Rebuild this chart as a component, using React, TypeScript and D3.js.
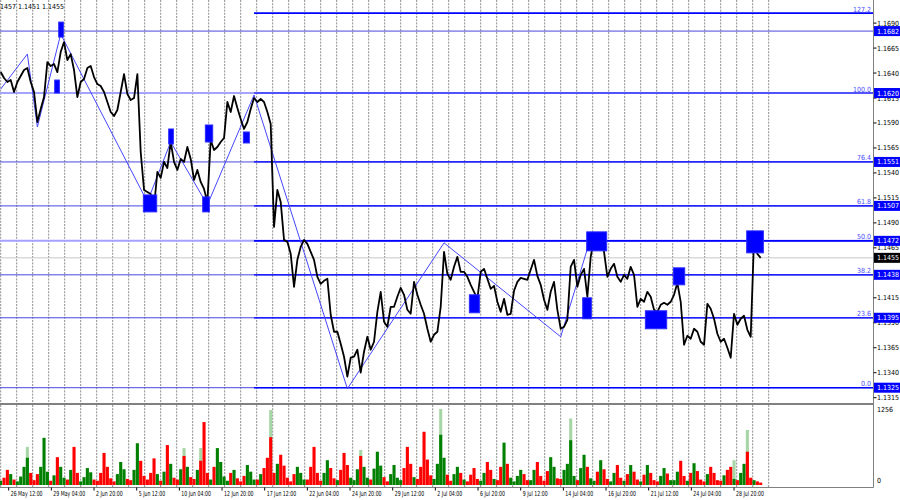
import React from "react";
import * as d3 from "d3";

// closing price sampled every 5 H1 bars, first sample = 26 May 00:00
const closes: number[] = [
  1.1641, 1.1635, 1.1631, 1.1633, 1.1621, 1.1631, 1.1637, 1.1643, 1.1645, 1.1631,
  1.1621, 1.1591, 1.1604, 1.1616, 1.1651, 1.1647, 1.1649, 1.1641, 1.1661, 1.1671,
  1.1653, 1.1659, 1.1643, 1.1616, 1.1631, 1.1634, 1.1645, 1.1647, 1.1636, 1.1629,
  1.1627, 1.1621, 1.1611, 1.1601, 1.1597, 1.1603, 1.1621, 1.1639, 1.1619, 1.1613,
  1.1615, 1.1639, 1.1561, 1.1523, 1.1521, 1.1519, 1.1506, 1.1541, 1.1535, 1.1551,
  1.1545, 1.1571, 1.1551, 1.1543, 1.1554, 1.1551, 1.1566, 1.1554, 1.1533, 1.1543,
  1.1531, 1.1524, 1.1511, 1.1573, 1.1563, 1.1566, 1.1571, 1.1575, 1.1611, 1.1601,
  1.1617, 1.1605, 1.1594, 1.1584, 1.1591, 1.1604, 1.1615, 1.1611, 1.1614, 1.1611,
  1.1601, 1.1589, 1.1486, 1.1523, 1.1511, 1.1473, 1.1471, 1.1459, 1.1426, 1.1453,
  1.1466, 1.1473, 1.1469, 1.1461, 1.1453, 1.1436, 1.1429, 1.1432, 1.1434, 1.1398,
  1.1381, 1.1381, 1.1369, 1.1356, 1.1336, 1.1355, 1.1356, 1.1363, 1.1340, 1.1361,
  1.1376, 1.1363, 1.1371, 1.1401, 1.1421, 1.1391, 1.1386, 1.1406, 1.1406, 1.1416,
  1.1425, 1.1418, 1.1403, 1.1399, 1.1431, 1.1418, 1.1408, 1.1399, 1.1384, 1.1371,
  1.1378, 1.1381, 1.1406, 1.1461, 1.1439, 1.1433, 1.1446, 1.1456, 1.1441, 1.1441,
  1.1436, 1.1428, 1.1421, 1.1414, 1.1441, 1.1444, 1.1434, 1.1424, 1.1427, 1.1411,
  1.1401, 1.1414, 1.1398, 1.1399, 1.1422, 1.1431, 1.1435, 1.1434, 1.1433, 1.1443,
  1.1453, 1.1437, 1.1428, 1.1413, 1.1403, 1.1421, 1.1431, 1.1403, 1.1384, 1.1386,
  1.1393, 1.1446, 1.1453, 1.1426, 1.1438, 1.1444, 1.1416, 1.1456, 1.1474, 1.1468,
  1.1474, 1.1461, 1.1436, 1.1444, 1.1449, 1.1436, 1.1431, 1.1438, 1.1434, 1.1446,
  1.1438, 1.1406, 1.1414, 1.1411, 1.1421, 1.1416, 1.1403, 1.1401, 1.1408, 1.1410,
  1.1408, 1.1411, 1.1418, 1.1430, 1.1411, 1.1368, 1.1377, 1.1374, 1.1384, 1.1381,
  1.1371, 1.1368, 1.1409, 1.1404, 1.1394, 1.1379, 1.1371, 1.1374, 1.1365, 1.1355,
  1.1399, 1.1388, 1.1394, 1.1397, 1.1383, 1.1376, 1.1474, 1.1459, 1.1455,
];

// volume per sample
const volumes: number[] = [
  70, 120, 250, 180, 90, 60, 140, 300, 450, 200,
  80, 180, 300, 780, 220, 70, 160, 460, 300, 120,
  90, 250, 630, 200, 60, 130, 280, 210, 90,
  70, 200, 530, 300, 110, 60, 180, 380, 260, 100,
  80, 250, 690, 400, 150, 90, 200, 440, 180,
  70, 220, 660, 350, 120, 90, 260, 480, 300, 130,
  100, 250, 400, 1040, 200, 90, 300, 610, 380, 140,
  70, 200, 250, 110, 60, 150, 330, 220, 90,
  90, 180, 280, 450, 790, 200, 350, 500, 320, 120,
  60, 180, 300, 200, 90, 90, 300, 630, 200,
  70, 200, 410, 280, 110, 80, 250, 530, 330, 120,
  80, 260, 480, 300, 120, 90, 270, 550, 320, 130,
  60, 180, 330, 120, 80, 280, 630, 350, 130,
  100, 300, 880, 420, 160, 100, 350, 830, 450, 170,
  70, 180, 300, 200, 90, 60, 170, 280, 100,
  70, 200, 380, 250, 100, 80, 300, 700, 350, 120,
  60, 150, 250, 180, 80, 80, 250, 380, 150,
  70, 230, 460, 300, 110, 100, 250, 350, 740, 150,
  80, 280, 500, 300, 110, 70, 220, 410, 260, 100,
  60, 200, 330, 120, 70, 180, 330, 220, 90,
  60, 170, 330, 200, 80, 60, 150, 280, 190, 80,
  80, 220, 400, 150, 70, 200, 360, 230, 90,
  60, 180, 300, 200, 80, 70, 160, 250, 300, 100,
  80, 200, 350, 550, 120, 80, 60, 40,
];

// tick-volume spikes drawn in light green behind the bars [sample, value]
const volumeSpikes: [number, number][] = [
  [8, 630], [55, 610], [60, 610], [81, 1240], [108, 580],
  [132, 1256], [171, 1100], [220, 410], [224, 910],
];

// zigzag vertices [H1 bar, price]
const zigzag: [number, number][] = [
  [0, 1.1624], [40, 1.1659], [55, 1.1586], [90, 1.1679], [220, 1.1511],
  [255, 1.1571], [310, 1.1508], [380, 1.1618], [520, 1.1324], [665, 1.147],
  [840, 1.1376], [880, 1.1464],
];

// marker boxes [from bar, to bar, top price, bottom price]
const boxes: [number, number, number, number][] = [
  [87, 94, 1.1691, 1.1676], [81, 88, 1.1633, 1.162], [214, 234, 1.1518, 1.1501],
  [252, 259, 1.1584, 1.1569], [307, 318, 1.1588, 1.1571], [303, 313, 1.1516, 1.1501],
  [364, 373, 1.1581, 1.157], [703, 718, 1.1418, 1.14], [879, 909, 1.1481, 1.1462],
  [873, 886, 1.1415, 1.1394], [1009, 1026, 1.1445, 1.1428], [967, 999, 1.1402, 1.1384],
  [1119, 1144, 1.1482, 1.146],
];

const fibNames = ["127.2", "100.0", "76.4", "61.8", "50.0", "38.2", "23.6", "0.0"];
const fibPrices = [1.17, 1.162, 1.1551, 1.1507, 1.1472, 1.1438, 1.1395, 1.1325];
const fibStartBar = 380;

const levelPrices = [1.1682, 1.162, 1.1551, 1.1507, 1.1472, 1.1438, 1.1395, 1.1325];
const lightLevels = [1.162, 1.1472];
const lastPrice = 1.1455;

// 1.1440 sits under the 1.1438 tag and is not shown
const priceTicks = [
  1.169, 1.1665, 1.164, 1.1615, 1.159, 1.1565, 1.154, 1.1515, 1.149, 1.1465,
  1.1415, 1.139, 1.1365, 1.134, 1.1315,
];

const dateLabels = [
  "21 May 20:00", "26 May 12:00", "29 May 04:00", "2 Jun 20:00", "5 Jun 12:00",
  "10 Jun 04:00", "12 Jun 20:00", "17 Jun 12:00", "22 Jun 04:00", "24 Jun 20:00",
  "29 Jun 12:00", "2 Jul 04:00", "6 Jul 20:00", "9 Jul 12:00", "14 Jul 04:00",
  "16 Jul 20:00", "21 Jul 12:00", "24 Jul 04:00", "28 Jul 20:00",
];

const W = 900;
const H = 500;
const axisX = 873.5;
const mainBottom = 403;
const volTop = 405;
const volBottom = 487.5;
const STEP = 5; // H1 bars per sample
const font = "'Liberation Sans Narrow', 'DejaVu Sans Condensed', Arial, sans-serif";

const App: React.FC = () => {
  const x = d3.scaleLinear().domain([0, 1311]).range([0.7, 874.7]);
  const y = d3.scaleLinear().domain([1.1325, 1.169]).range([387.7, 23.1]);
  const yv = d3.scaleLinear().domain([0, 1256]).range([485, 409]);

  const priceLine = d3
    .line<number>()
    .x((_, i) => x(i * STEP))
    .y((d) => y(d))(closes);

  const zigLine = d3
    .line<[number, number]>()
    .x((d) => x(d[0]))
    .y((d) => y(d[1]))(zigzag);

  const gridBars = d3.range(0, 1153, 24);
  const n = Math.min(closes.length, volumes.length);
  const barW = 3.1;

  return (
    <svg
      width={W}
      height={H}
      style={{ position: "absolute", left: 0, top: 0, background: "#fff" }}
      fontFamily={font}
      fontSize={7}
    >
      <rect width={W} height={H} fill="#fff" />

      {/* daily grid */}
      {gridBars.map((b) => (
        <g key={b} stroke="#8c8c8c" strokeDasharray="2 1.2">
          <line x1={x(b)} x2={x(b)} y1={0} y2={mainBottom} />
          <line x1={x(b)} x2={x(b)} y1={volTop} y2={volBottom} />
        </g>
      ))}

      {/* current price line */}
      <line x1={0} x2={axisX} y1={y(lastPrice)} y2={y(lastPrice)} stroke="#c8c8c8" />

      {/* horizontal levels */}
      {levelPrices.map((p) => {
        const light = lightLevels.includes(p);
        return (
          <line
            key={p}
            x1={0}
            x2={axisX}
            y1={y(p)}
            y2={y(p)}
            stroke={light ? "#a4a4ff" : "#4848e0"}
            strokeWidth={light ? 2 : 1}
          />
        );
      })}

      {/* fibonacci */}
      {fibPrices.map((p, i) => (
        <g key={fibNames[i]}>
          <line
            x1={x(fibStartBar)}
            x2={axisX}
            y1={y(p)}
            y2={y(p)}
            stroke="#0000ff"
            strokeWidth={i === 0 || i === 7 || i === 4 ? 1.6 : 1.2}
          />
          <text x={871} y={y(p) - 1.5} textAnchor="end" fill="#4a4aff">
            {fibNames[i]}
          </text>
        </g>
      ))}

      {/* zigzag */}
      <path d={zigLine ?? ""} fill="none" stroke="#4646ff" strokeWidth={1} />

      {/* price */}
      <path d={priceLine ?? ""} fill="none" stroke="#000" strokeWidth={1.8} strokeLinejoin="round" />

      {/* marker boxes */}
      {boxes.map((b, i) => (
        <rect
          key={i}
          x={x(b[0])}
          y={y(b[2])}
          width={x(b[1]) - x(b[0])}
          height={y(b[3]) - y(b[2])}
          fill="#0000ff"
          stroke="#2a2aff"
        />
      ))}

      {/* header */}
      <text x={0} y={9} fill="#000">
        1457 1.1451 1.1455
      </text>

      {/* panel separator */}
      <rect x={0} y={mainBottom} width={axisX} height={2} fill="#808080" />

      {/* volume */}
      {volumeSpikes.map(([i, v]) => (
        <rect
          key={"s" + i}
          x={x(i * STEP) - barW / 2}
          y={yv(v)}
          width={barW}
          height={yv(0) - yv(v)}
          fill="#a6d6a6"
        />
      ))}
      {d3.range(n).map((i) => {
        const up = i === 0 || closes[i] >= closes[i - 1];
        return (
          <rect
            key={i}
            x={x(i * STEP) - barW / 2}
            y={yv(volumes[i])}
            width={barW}
            height={yv(0) - yv(volumes[i])}
            fill={up ? "#008000" : "#ff0000"}
          />
        );
      })}

      {/* borders */}
      <line x1={axisX} x2={axisX} y1={0} y2={volBottom} stroke="#808080" />
      <line x1={0} x2={axisX} y1={volBottom} y2={volBottom} stroke="#808080" />

      {/* price axis */}
      {priceTicks.map((p) => (
        <g key={p}>
          <line x1={axisX} x2={axisX + 3} y1={y(p)} y2={y(p)} stroke="#000" />
          <text x={877} y={y(p) + 2.5} fill="#000">
            {p.toFixed(4)}
          </text>
        </g>
      ))}
      {levelPrices.map((p) => (
        <g key={"t" + p}>
          <rect x={axisX + 0.5} y={y(p) - 5} width={26} height={10} fill="#0000ff" />
          <text x={877} y={y(p) + 2.5} fill="#fff">
            {p.toFixed(4)}
          </text>
        </g>
      ))}
      <rect x={axisX + 0.5} y={y(lastPrice) - 5} width={26} height={10} fill="#000" />
      <text x={877} y={y(lastPrice) + 2.5} fill="#fff">
        {lastPrice.toFixed(4)}
      </text>

      {/* volume axis */}
      <text x={877} y={412} fill="#000">
        1256
      </text>
      <text x={877} y={483} fill="#000">
        0
      </text>

      {/* time axis */}
      {dateLabels.map((d, i) => {
        const bx = x(-52 + 64 * i);
        return (
          <g key={d}>
            <line x1={bx} x2={bx} y1={volBottom} y2={volBottom + 3} stroke="#000" />
            <text transform={`translate(${bx + 2},496) scale(0.74,1)`} fill="#000">
              {d}
            </text>
          </g>
        );
      })}
    </svg>
  );
};

export default App;
